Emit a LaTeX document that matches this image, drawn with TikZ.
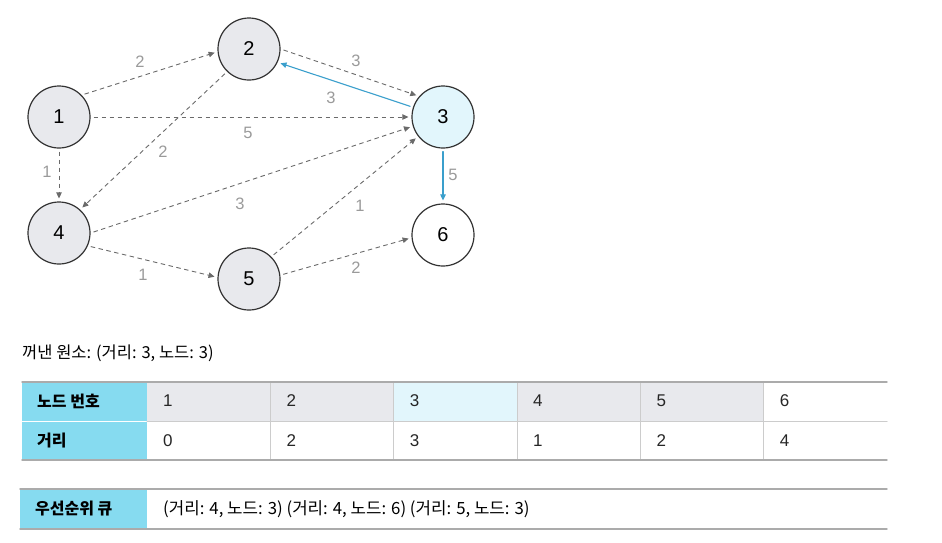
\documentclass[tikz,border=0pt]{standalone}
\usepackage{fontspec}
\setmainfont{Liberation Sans}
\newfontfamily\kr{Noto Sans CJK KR}
\usetikzlibrary{arrows.meta}

\definecolor{nodegray}{HTML}{E8E9ED}
\definecolor{nodeblue}{HTML}{E2F6FC}
\definecolor{pathblue}{HTML}{3A9FCC}
\definecolor{headcyan}{HTML}{86DBF0}
\definecolor{edgegray}{HTML}{6A6A6A}
\definecolor{lblgray}{HTML}{9A9A9A}
\definecolor{rulegray}{HTML}{ABABAB}

\begin{document}
\begin{tikzpicture}[x=1pt, y=-1pt, >=Triangle, line cap=round, line join=round]
		
		% ================= 1. 스타일 =================
		\tikzset{
			vertex/.style={circle, draw=black!80, line width=1.2pt, minimum size=62pt, inner sep=0pt,
				fill=nodegray, font=\fontsize{20}{22}\selectfont},
			edge/.style={draw=edgegray, line width=0.9pt, line cap=butt, dash pattern=on 4.5pt off 3.5pt,
				-{Triangle[length=6pt, width=5.5pt, fill=edgegray]}, shorten <=3pt, shorten >=3pt},
			best/.style={draw=pathblue, line width=1.1pt, solid,
				-{Triangle[length=6pt, width=5.5pt, fill=pathblue]}, shorten <=3pt, shorten >=3pt},
			lbl/.style={text=lblgray, font=\fontsize{16.5}{18}\selectfont, inner sep=0pt},
			cell/.style={anchor=west, inner sep=0pt, font=\fontsize{17}{19}\selectfont, text=black!85},
			head/.style={anchor=west, inner sep=0pt, font=\kr\bfseries\fontsize{16}{18}\selectfont},
			vline/.style={draw=black!20, line width=0.8pt},
			hline/.style={draw=rulegray, line width=1.4pt}
		}
		
		\useasboundingbox (0,0) rectangle (942,542);
		
		% ================= 2. 그래프 노드 =================
		\node[vertex] (n1) at (59,117) {1};
		\node[vertex] (n2) at (249,49) {2};
		\node[vertex, fill=nodeblue] (n3) at (443,117) {3};
		\node[vertex] (n4) at (59,233) {4};
		\node[vertex] (n5) at (249,279) {5};
		\node[vertex, fill=white] (n6) at (443,235) {6};
		
		% ================= 3. 간선과 비용 =================
		\draw[edge] (n1.44) -- (n2.185);
		\draw[edge] (n2.0) -- (n3.139);
		\draw[edge] (n1.0) -- (n3.180);
		\draw[edge] (n2.226) -- (n4.48);
		\draw[edge] (n1.270) -- (n4.90);
		\draw[edge] (n4.0) -- (n3.197);
		\draw[edge] (n4.-24) -- (n5.177);
		\draw[edge] (n5.45) -- (n3.218);
		\draw[edge] (n5.7) -- (n6.185);
		
		% 현재 노드 3에서 갱신하는 간선
		\draw[best] (n3.162) -- (n2.-25);
		\draw[best] (n3.270) -- (n6.90);
		
		\node[lbl] (w12) at (140,62) {2};
		\node[lbl] (w23) at (356,61) {3};
		\node[lbl] (w32) at (331,98) {3};
		\node[lbl] (w13) at (248,133) {5};
		\node[lbl] (w24) at (163,152) {2};
		\node[lbl] (w14) at (47,172) {1};
		\node[lbl] (w43) at (240,204) {3};
		\node[lbl] (w45) at (143,275) {1};
		\node[lbl] (w53) at (360,206) {1};
		\node[lbl] (w56) at (356,268) {2};
		\node[lbl] (w36) at (453,175) {5};
		
		% ================= 4. 꺼낸 원소 =================
		\node[anchor=west, inner sep=0pt, font=\kr\fontsize{16.5}{18}\selectfont] (pop) at (22,353)
		{꺼낸 원소: (거리: 3, 노드: 3)};
		
		% ================= 5. 최단 거리 테이블 =================
		\fill[headcyan] (22,382) rectangle (147,460);
		\foreach \i/\col in {1/nodegray, 2/nodegray, 3/nodeblue, 4/nodegray, 5/nodegray, 6/white}
		\fill[\col] ({147+(\i-1)*123.33},382) rectangle ({147+\i*123.33},421);
		\foreach \i/\d in {1/0, 2/2, 3/3, 4/1, 5/2, 6/4} {
			\node[cell] (v\i) at ({163+(\i-1)*123.33},401) {\i};
			\node[cell] (d\i) at ({163+(\i-1)*123.33},441) {\d};
		}
		\foreach \i in {1,...,5}
		\draw[vline] ({147+\i*123.33},382) -- ({147+\i*123.33},460);
		\draw[vline, draw=white] (22,421) -- (147,421);
		\draw[hline, draw=black!20, line width=1pt] (147,421) -- (887,421);
		\draw[hline] (22,382) -- (887,382);
		\draw[hline] (22,460) -- (887,460);
		\node[head] (hnum) at (37,401) {노드 번호};
		\node[head] (hdist) at (37,441) {거리};
		
		% ================= 6. 우선순위 큐 =================
		\fill[headcyan] (20,489) rectangle (147,529);
		\draw[hline] (20,489) -- (887,489);
		\draw[hline] (20,529) -- (887,529);
		\node[head] (hque) at (35,509) {우선순위 큐};
		\node[anchor=west, inner sep=0pt, font=\kr\fontsize{16.8}{18}\selectfont] (que) at (163,509)
		{(거리: 4, 노드: 3) (거리: 4, 노드: 6) (거리: 5, 노드: 3)};
		
	\end{tikzpicture}
\end{document}
